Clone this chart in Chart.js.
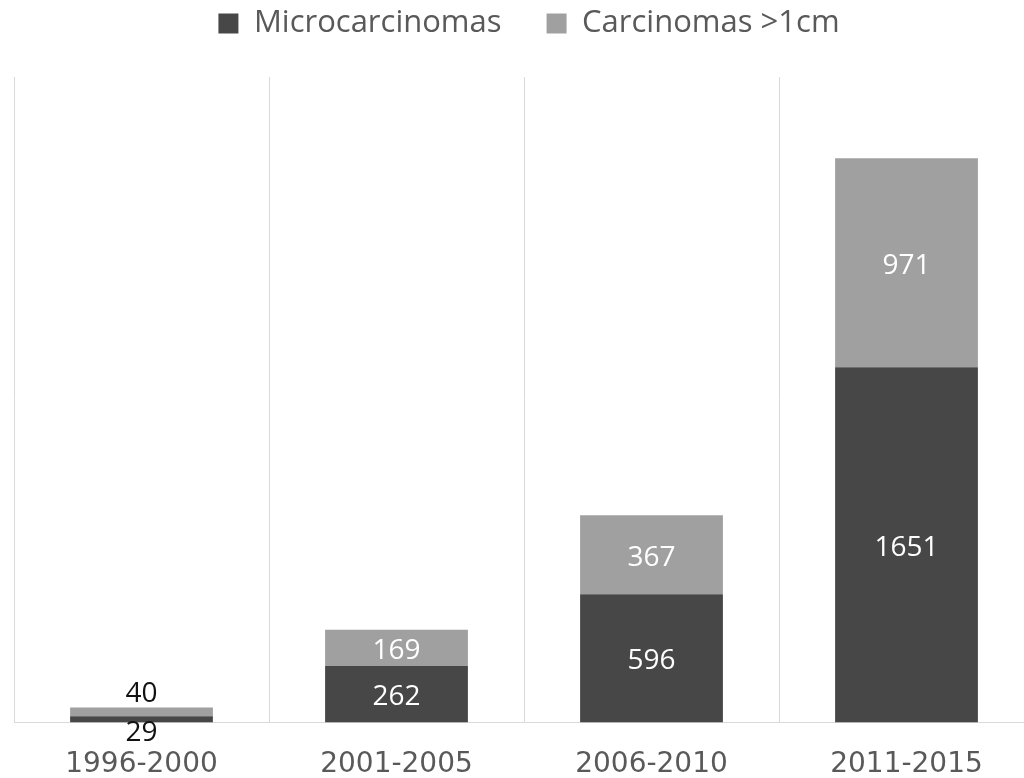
<!DOCTYPE html>
<html>
<head>
<meta charset="utf-8">
<script src="https://cdn.jsdelivr.net/npm/chart.js@4"></script>
<style>
  html, body { margin: 0; padding: 0; background: #fff; overflow: hidden; }
  #wrap { width: 1044px; height: 778px; }
</style>
</head>
<body>
<div id="wrap"><canvas id="tumorchart"></canvas></div>
<script>
const periods = ["1996-2000", "2001-2005", "2006-2010", "2011-2015"];
const microValues = [29, 262, 596, 1651];
const largeValues = [40, 169, 367, 971];

const darkGrey = '#474747';
const lightGrey = '#a0a0a0';
const legendGap = 28;
const legendShift = 5;

// labels drawn in the middle of each segment, outside for the tiny first bar
const valueLabels = {
    id: 'valueLabels',
    afterDatasetsDraw(chart) {
        const ctx = chart.ctx;
        ctx.save();
        ctx.font = '28px "Open Sans"';
        ctx.textAlign = 'center';
        ctx.textBaseline = 'middle';
        chart.data.datasets.forEach(function(ds, d) {
            const meta = chart.getDatasetMeta(d);
            meta.data.forEach(function(bar, i) {
                const val = ds.data[i];
                const h = bar.base - bar.y;
                if (h < 20) {
                    ctx.fillStyle = '#111';
                    if (d === 0) ctx.fillText(val, bar.x, bar.base + 11);
                    else ctx.fillText(val, bar.x, bar.y - 14);
                } else {
                    ctx.fillStyle = '#fff';
                    ctx.fillText(val, bar.x, (bar.y + bar.base) / 2 + 3);
                }
            });
        });
        ctx.restore();
    }
};

// push the plot down a little under the legend and nudge the legend right
const legendSpace = {
    id: 'legendSpace',
    beforeLayout(chart) {
        const lg = chart.legend;
        if (lg && !lg._patched) {
            const orig = lg.fit;
            lg.fit = function() {
                orig.call(this);
                this.height += legendGap;
            };
            lg._patched = true;
        }
    },
    afterLayout(chart) {
        chart.legend.left += legendShift;
        chart.legend.right += legendShift;
    }
};

const tumorChart = new Chart(
    document.getElementById('tumorchart'),
    {
        type: 'bar',
        data: {
            labels: periods,
            datasets: [{
                label: 'Microcarcinomas',
                backgroundColor: darkGrey,
                data: microValues,
            }, {
                label: 'Carcinomas >1cm',
                backgroundColor: lightGrey,
                data: largeValues,
            }]
        },
        options: {
            responsive: true,
            maintainAspectRatio: false,
            animation: false,
            layout: {
                padding: { left: 14, right: 10, top: -37, bottom: -30 }
            },
            datasets: {
                bar: { barPercentage: 0.56, categoryPercentage: 1.0 }
            },
            scales: {
                x: {
                    stacked: true,
                    grid: { color: '#d9d9d9', drawTicks: false, offset: true },
                    border: { color: '#d9d9d9' },
                    ticks: {
                        color: '#595959',
                        font: { family: '"DejaVu Sans"', size: 28 },
                        padding: 26
                    }
                },
                y: {
                    stacked: true,
                    display: false,
                    min: 0,
                    max: 3000
                }
            },
            plugins: {
                legend: {
                    display: true,
                    labels: {
                        color: '#595959',
                        font: { family: '"Open Sans"', size: 31 },
                        boxWidth: 20,
                        boxHeight: 20,
                        padding: 45
                    }
                },
                tooltip: { enabled: false }
            }
        },
        plugins: [valueLabels, legendSpace]
    }
);
</script>
</body>
</html>
